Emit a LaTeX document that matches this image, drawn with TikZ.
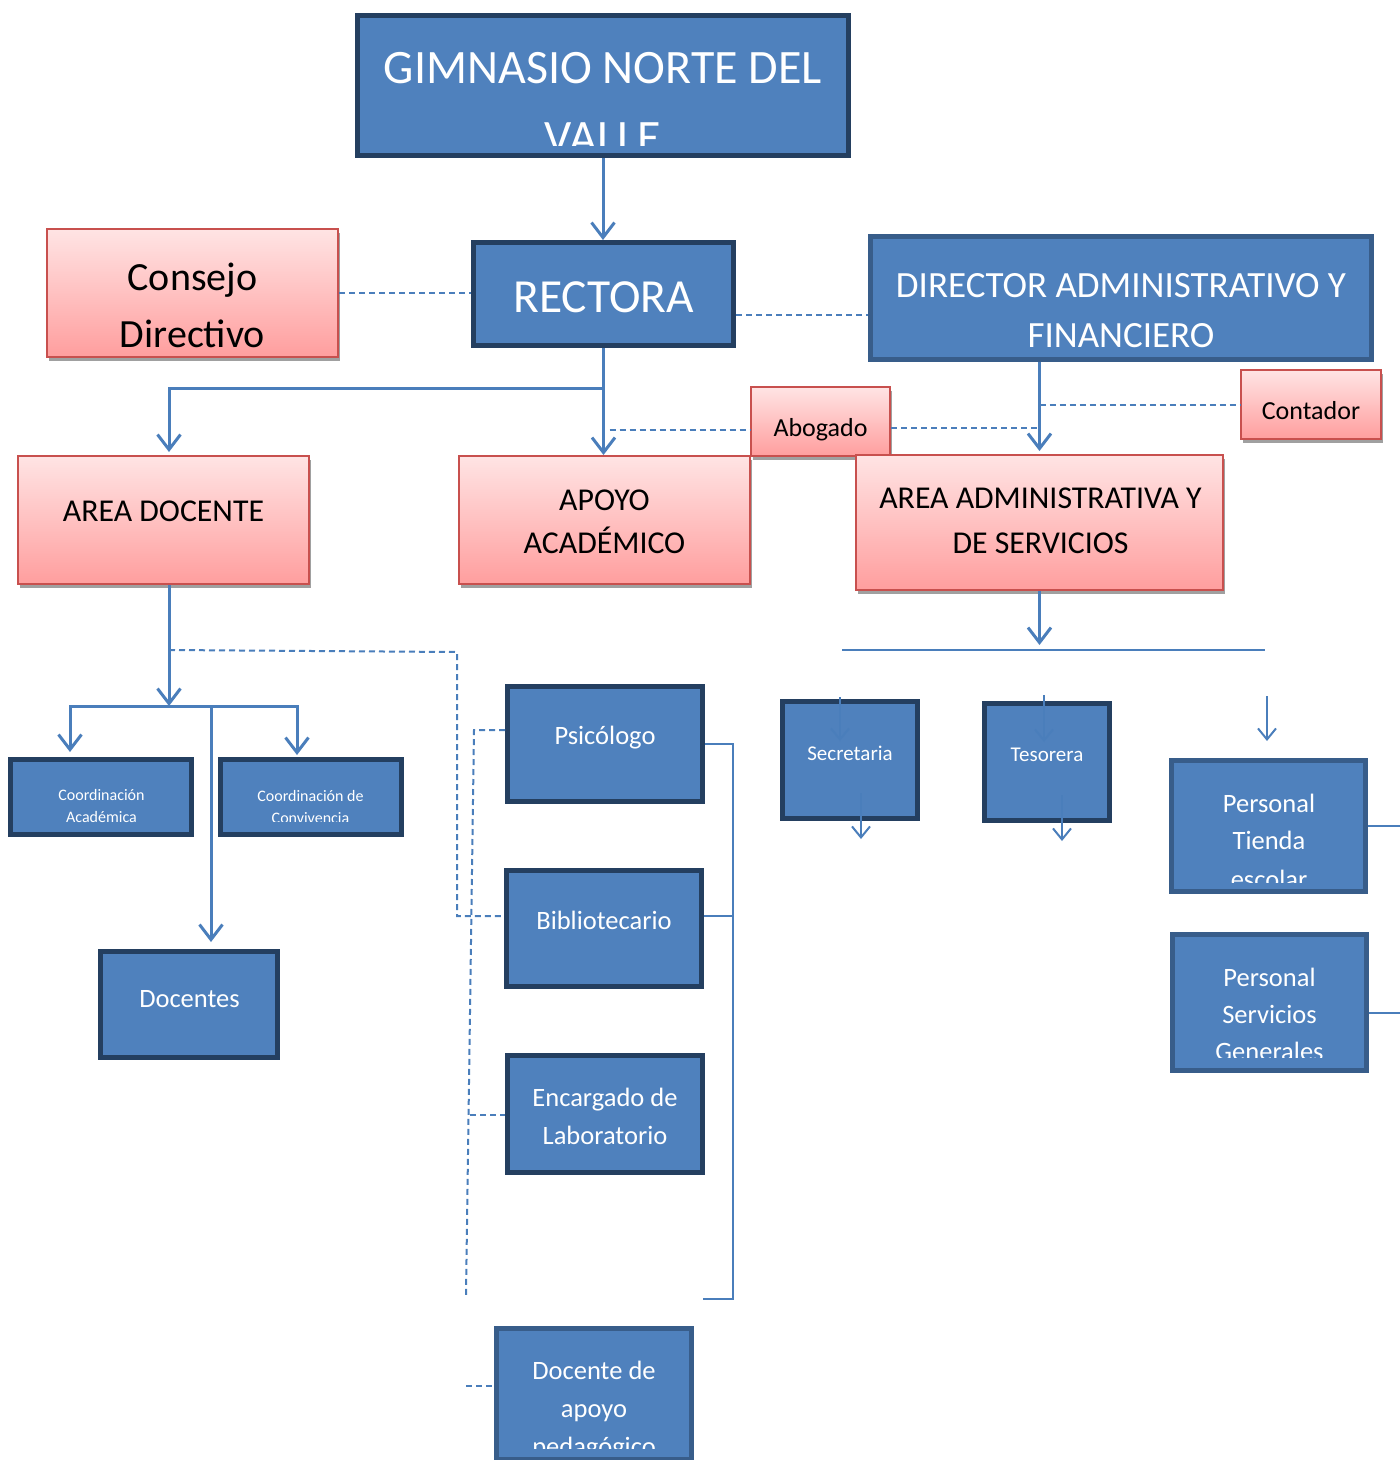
\documentclass[tikz,border=0pt]{standalone}
\usepackage{fontspec}
\setmainfont{Carlito}
\usetikzlibrary{arrows.meta,shadows,calc}
\definecolor{fillb}{HTML}{4F81BD}
\definecolor{darkb}{HTML}{243F60}
\definecolor{midb}{HTML}{385D8A}
\definecolor{lineb}{HTML}{4A7EBB}
\definecolor{pinkt}{HTML}{FFE4E4}
\definecolor{pinkb}{HTML}{FF9E9E}
\definecolor{pinkd}{HTML}{C8504E}
\definecolor{shadowg}{HTML}{A0A0A0}
\newcommand\fsz[1]{\fontsize{#1}{#1}\selectfont}
\newcommand\bx[7]{\node[#2, minimum width={(#5-#3-#7)*1pt}, minimum height={(#6-#4-#7)*1pt}] (#1) at ({(#3+#5)/2},{(#4+#6)/2}) {};}
\tikzset{
  Bb/.tip={Straight Barb[length=15pt,width=23pt]},
  Sb/.tip={Straight Barb[length=11pt,width=18pt]},
}
\begin{document}
\begin{tikzpicture}[x=1pt,y=-1pt,
  darkbox/.style={draw=darkb, fill=fillb, line width=5pt, inner sep=0pt},
  midbox/.style={draw=midb, fill=fillb, line width=5pt, inner sep=0pt},
  pinkbox/.style={draw=pinkd, line width=2pt, top color=pinkt, bottom color=pinkb, inner sep=0pt,
     drop shadow={shadow xshift=2pt, shadow yshift=-4pt, fill=shadowg, opacity=1}},
  wtxt/.style={text=white, anchor=base, inner sep=0pt},
  ktxt/.style={text=black, anchor=base, inner sep=0pt},
  conn/.style={draw=lineb, line width=3pt},
  thinl/.style={draw=lineb, line width=2pt},
  dsh/.style={draw=lineb, line width=2pt, dash pattern=on 6pt off 4pt},
]
\useasboundingbox (0,0) rectangle (1400,1460);

% ---------- boxes ----------
\bx{gim}{darkbox}{355}{13}{851}{158}{5}
\bx{rec}{darkbox}{471}{240}{736}{348}{5}
\bx{cons}{pinkbox}{46}{228}{339}{358}{2}
\bx{dir}{midbox}{868}{234}{1374}{362}{5}
\bx{abo}{pinkbox}{750}{386}{891}{457}{2}
\bx{cont}{pinkbox}{1240}{369}{1382}{440}{2}
\bx{adoc}{pinkbox}{17}{455}{310}{585}{2}
\bx{apo}{pinkbox}{458}{455}{751}{585}{2}
\bx{aadm}{pinkbox}{855}{454}{1224}{591}{2}
\bx{psi}{darkbox}{505}{684}{705}{804}{5}
\bx{bib}{darkbox}{504}{868}{704}{989}{5}
\bx{enc}{darkbox}{505}{1053}{705}{1175}{5}
\bx{dap}{midbox}{494}{1326}{694}{1462}{5}
\bx{cacad}{darkbox}{8}{757}{194}{837}{5}
\bx{cconv}{darkbox}{218}{757}{404}{837}{5}
\bx{docs}{darkbox}{98}{949}{280}{1060}{5}
\bx{sec}{darkbox}{780}{699}{920}{821}{5}
\bx{tes}{darkbox}{982}{701}{1112}{823}{5}
\bx{ptie}{midbox}{1169}{758}{1368}{894}{5}
\bx{pser}{midbox}{1170}{932}{1369}{1073}{5}

% ---------- texts ----------
\begin{scope}
\clip (360,18) rectangle (846,145);
\node[wtxt,font=\fsz{48}] (gim-a) at (603,83) {GIMNASIO NORTE DEL};
\node[wtxt,font=\fsz{48}] (gim-b) at (603,153) {VALLE};
\end{scope}
\node[wtxt,font=\fsz{47.5}] (rec-a) at (603.5,312) {RECTORA};
\node[ktxt,font=\fsz{40}] (cons-a) at (192.5,290) {Consejo};
\node[ktxt,font=\fsz{40}] (cons-b) at (192.5,347) {Directivo};
\node[wtxt,font=\fsz{37}] (dir-a) at (1121,297) {DIRECTOR ADMINISTRATIVO Y};
\node[wtxt,font=\fsz{37}] (dir-b) at (1121,347) {FINANCIERO};
\node[ktxt,font=\fsz{26}] (abo-a) at (820.5,436) {Abogado};
\node[ktxt,font=\fsz{26}] (cont-a) at (1311,419) {Contador};
\node[ktxt,font=\fsz{31.8}] (adoc-a) at (163.5,521) {AREA DOCENTE};
\node[ktxt,font=\fsz{31.8}] (apo-a) at (604.5,510) {APOYO};
\node[ktxt,font=\fsz{31.8}] (apo-b) at (604.5,553) {ACADÉMICO};
\node[ktxt,font=\fsz{31.8}] (aadm-a) at (1040.5,508) {AREA ADMINISTRATIVA Y};
\node[ktxt,font=\fsz{31.8}] (aadm-b) at (1040.5,553) {DE SERVICIOS};
\node[wtxt,font=\fsz{26.5}] (psi-a) at (605,744) {Psicólogo};
\node[wtxt,font=\fsz{26.5}] (bib-a) at (604,929) {Bibliotecario};
\node[wtxt,font=\fsz{26.5}] (enc-a) at (605,1106) {Encargado de};
\node[wtxt,font=\fsz{26.5}] (enc-b) at (605,1144) {Laboratorio};
\begin{scope}
\clip (499,1331) rectangle (689,1448);
\node[wtxt,font=\fsz{26.5}] (dap-a) at (594,1379) {Docente de};
\node[wtxt,font=\fsz{26.5}] (dap-b) at (594,1417) {apoyo};
\node[wtxt,font=\fsz{26.5}] (dap-c) at (594,1455) {pedagógico};
\end{scope}
\node[wtxt,font=\fsz{16}] (cacad-a) at (101.5,800) {Coordinación};
\node[wtxt,font=\fsz{16}] (cacad-b) at (101.5,822) {Académica};
\begin{scope}
\clip (223,762) rectangle (399,821);
\node[wtxt,font=\fsz{16}] (cconv-a) at (310.5,801) {Coordinación de};
\node[wtxt,font=\fsz{16}] (cconv-b) at (310.5,823) {Convivencia};
\end{scope}
\node[wtxt,font=\fsz{26.5}] (docs-a) at (189.5,1007) {Docentes};
\node[wtxt,font=\fsz{21}] (sec-a) at (850,760) {Secretaria};
\node[wtxt,font=\fsz{21}] (tes-a) at (1047,761) {Tesorera};
\begin{scope}
\clip (1174,763) rectangle (1363,882);
\node[wtxt,font=\fsz{26.5}] (ptie-a) at (1269,812) {Personal};
\node[wtxt,font=\fsz{26.5}] (ptie-b) at (1269,849) {Tienda};
\node[wtxt,font=\fsz{26.5}] (ptie-c) at (1269,888) {escolar};
\end{scope}
\begin{scope}
\clip (1175,937) rectangle (1364,1057);
\node[wtxt,font=\fsz{26.5}] (pser-a) at (1269.5,986) {Personal};
\node[wtxt,font=\fsz{26.5}] (pser-b) at (1269.5,1023) {Servicios};
\node[wtxt,font=\fsz{26.5}] (pser-c) at (1269.5,1060) {Generales};
\end{scope}

% ---------- connectors ----------
\coordinate (rdY) at (0,315);
\coordinate (brY) at (0,388);
\coordinate (adocX) at (169,0);
\coordinate (abY) at (0,430);
\coordinate (abY2) at (0,428);
\coordinate (hubD) at (169,706);
\coordinate (cA) at (70,0);
\coordinate (cB) at (297,0);
\coordinate (dX) at (211,0);
\coordinate (dsA) at (169,650);
\coordinate (dsB) at (457,652);
\coordinate (bibY) at (0,916);
\coordinate (pL1) at (474,730);
\coordinate (pEnd) at (466,1295);
\coordinate (encJ) at (470,1115);
\coordinate (dapJ) at (466,1386);
\coordinate (brR) at (733,744);
\coordinate (brE) at (703,1299);
\coordinate (hL) at (842,650);
\coordinate (hR) at (1265,650);
\coordinate (s1a) at (840,697);
\coordinate (s1b) at (840,741);
\coordinate (s2a) at (1044,695);
\coordinate (s2b) at (1044,742);
\coordinate (s3a) at (1267,696);
\coordinate (s3b) at (1267,741);
\coordinate (s4a) at (861,793);
\coordinate (s4b) at (861,839);
\coordinate (s5a) at (1062,795);
\coordinate (s5b) at (1062,841);
\coordinate (rtA) at (1400,826);
\coordinate (rtB) at (1400,1013);

\draw[conn,-Bb] (gim.south) -- (gim.south |- rec.north);
\draw[dsh] (cons.east) -- (cons.east -| rec.west);
\draw[dsh] (rec.east |- rdY) -- (dir.west |- rdY);
\draw[conn,-Bb] (rec.south) -- (rec.south |- apo.north);
\draw[conn,-Bb] (rec.south |- brY) -| ([yshift=3pt]adocX |- adoc.north);
\draw[dsh] ([xshift=6pt]rec.south |- abY) -- (abo.west |- abY);
\draw[dsh] (abo.east |- abY2) -- (aadm.north |- abY2);
\draw[conn,-Bb] (aadm.north |- dir.south) -- ([yshift=3pt]aadm.north);
\draw[dsh] (aadm.north |- cont.west) -- (cont.west);
\draw[conn,-Bb] (adocX |- adoc.south) -- (hubD);
\draw[conn,Bb-Bb] ([yshift=5pt]cA |- cacad.north) |- (hubD) -| ([yshift=2pt]cB |- cconv.north);
\draw[conn,-Bb] (dX |- hubD) -- ([yshift=7pt]dX |- docs.north);
\draw[dsh] (dsA) -- (dsB) -- (dsB |- bibY) -- (bib.west |- bibY);
\draw[dsh] (psi.west |- pL1) -- (pL1) -- (pEnd);
\draw[dsh] (encJ) -- (enc.west |- encJ);
\draw[dsh] (dapJ) -- (dap.west |- dapJ);
\draw[thinl] (psi.east |- brR) -- (brR) |- (brE);
\draw[thinl] (bib.east |- bibY) -- (brR |- bibY);
\draw[conn,-Bb] (aadm.south) -- ([yshift=-54pt]aadm.south);
\draw[thinl] (hL) -- (hR);
\draw[thinl,-Sb] (s1a) -- (s1b);
\draw[thinl,-Sb] (s2a) -- (s2b);
\draw[thinl,-Sb] (s3a) -- (s3b);
\draw[thinl,-Sb] (s4a) -- (s4b);
\draw[thinl,-Sb] (s5a) -- (s5b);
\draw[thinl] (ptie.east |- rtA) -- (rtA);
\draw[thinl] (pser.east |- rtB) -- (rtB);
\end{tikzpicture}
\end{document}
